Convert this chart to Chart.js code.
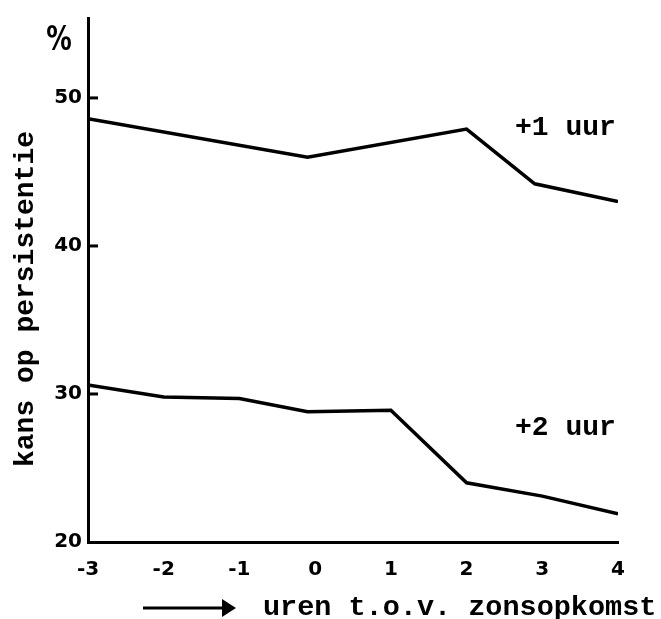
<!DOCTYPE html>
<html>
<head>
<meta charset="utf-8">
<script src="https://cdn.jsdelivr.net/npm/chart.js@4"></script>
<style>
html,body{margin:0;padding:0;background:#fff;}
#wrap{width:661px;height:619px;}
</style>
</head>
<body>
<div id="wrap"><canvas id="c" width="661" height="619"></canvas></div>
<script>
// Data
const hoursPlus1 = [-3, -0.1, 2, 2.9, 4];
const persist1 = [48.6, 46.0, 47.9, 44.2, 43.0];
const hoursPlus2 = [-3, -2, -1, -0.1, 1, 2, 3, 4];
const persist2 = [30.6, 29.8, 29.7, 28.8, 28.9, 24.0, 23.1, 21.9];
const yTicks = [20, 30, 40, 50];
const xTicks = [-3, -2, -1, 0, 1, 2, 3, 4];
const seriesNames = ['+1 uur', '+2 uur'];
const labelAnchors = [[2.64, 47.5], [2.64, 27.2]];
const yTitle = 'kans op persistentie';
const xTitle = 'uren t.o.v. zonsopkomst';
const unitLabel = '%';

const toPts = (xs, ys) => xs.map((x, i) => ({x: x, y: ys[i]}));

const monoFont = '"Liberation Mono", "Courier New", monospace';
const numFont = '"DejaVu Sans", sans-serif';

const decor = {
  id: 'decor',
  afterDraw(chart) {
    const ctx = chart.ctx;
    const xs = chart.scales.x, ys = chart.scales.y;
    ctx.save();
    ctx.fillStyle = '#000';
    ctx.strokeStyle = '#000';
    // inward y ticks
    ctx.lineWidth = 3;
    yTicks.forEach(v => {
      if (v === 20) return;
      const py = ys.getPixelForValue(v);
      ctx.beginPath();
      ctx.moveTo(xs.left, py);
      ctx.lineTo(xs.left + 10, py);
      ctx.stroke();
    });
    // series labels
    ctx.font = 'bold 28px ' + monoFont;
    ctx.textAlign = 'left';
    ctx.textBaseline = 'alphabetic';
    seriesNames.forEach((n, i) => {
      ctx.fillText(n, xs.getPixelForValue(labelAnchors[i][0]), ys.getPixelForValue(labelAnchors[i][1]));
    });
    // percent sign
    ctx.save();
    ctx.translate(59, 41);
    ctx.scale(0.75, 1);
    ctx.font = 'bold 34px ' + numFont;
    ctx.textAlign = 'center';
    ctx.textBaseline = 'middle';
    ctx.fillText(unitLabel, 0, 0);
    ctx.restore();
    // y title
    ctx.save();
    ctx.translate(33, 299);
    ctx.rotate(-Math.PI / 2);
    ctx.font = 'bold 28px ' + monoFont;
    ctx.textAlign = 'center';
    ctx.textBaseline = 'alphabetic';
    ctx.fillText(yTitle, 0, 0);
    ctx.restore();
    // x title with arrow
    ctx.font = 'bold 28.5px ' + monoFont;
    ctx.textAlign = 'left';
    ctx.textBaseline = 'alphabetic';
    ctx.fillText(xTitle, 263, 615);
    ctx.lineWidth = 3;
    ctx.beginPath();
    ctx.moveTo(143, 608);
    ctx.lineTo(224, 608);
    ctx.stroke();
    ctx.beginPath();
    ctx.moveTo(222, 599);
    ctx.lineTo(236, 608);
    ctx.lineTo(222, 617);
    ctx.closePath();
    ctx.fill();
    ctx.restore();
  }
};

new Chart(document.getElementById('c'), {
  type: 'line',
  data: {
    datasets: [
      {label: seriesNames[0], data: toPts(hoursPlus1, persist1), borderColor: '#000', borderWidth: 3.5, pointRadius: 0, tension: 0, fill: false},
      {label: seriesNames[1], data: toPts(hoursPlus2, persist2), borderColor: '#000', borderWidth: 3.5, pointRadius: 0, tension: 0, fill: false}
    ]
  },
  options: {
    responsive: false,
    animation: false,
    layout: {padding: {top: 15, right: 43, left: 0, bottom: 0}},
    plugins: {legend: {display: false}, tooltip: {enabled: false}},
    scales: {
      x: {
        type: 'linear', min: -3, max: 4,
        afterBuildTicks: s => { s.ticks = xTicks.map(v => ({value: v})); },
        afterFit: s => { s.height = 77; },
        grid: {display: false, drawOnChartArea: false, drawTicks: true, tickLength: 5, tickWidth: 3, color: '#000'},
        border: {display: true, color: '#000', width: 3},
        ticks: {color: '#000', padding: 11, font: {family: numFont, weight: 'bold', size: 20}, maxRotation: 0}
      },
      y: {
        type: 'linear', min: 20, max: 55.4,
        afterBuildTicks: s => { s.ticks = yTicks.map(v => ({value: v})); },
        afterFit: s => { s.width = 88; },
        grid: {display: false, drawTicks: false},
        border: {display: true, color: '#000', width: 3},
        ticks: {color: '#000', padding: 6, font: {family: numFont, weight: 'bold', size: 20}}
      }
    }
  },
  plugins: [decor]
});
</script>
</body>
</html>
